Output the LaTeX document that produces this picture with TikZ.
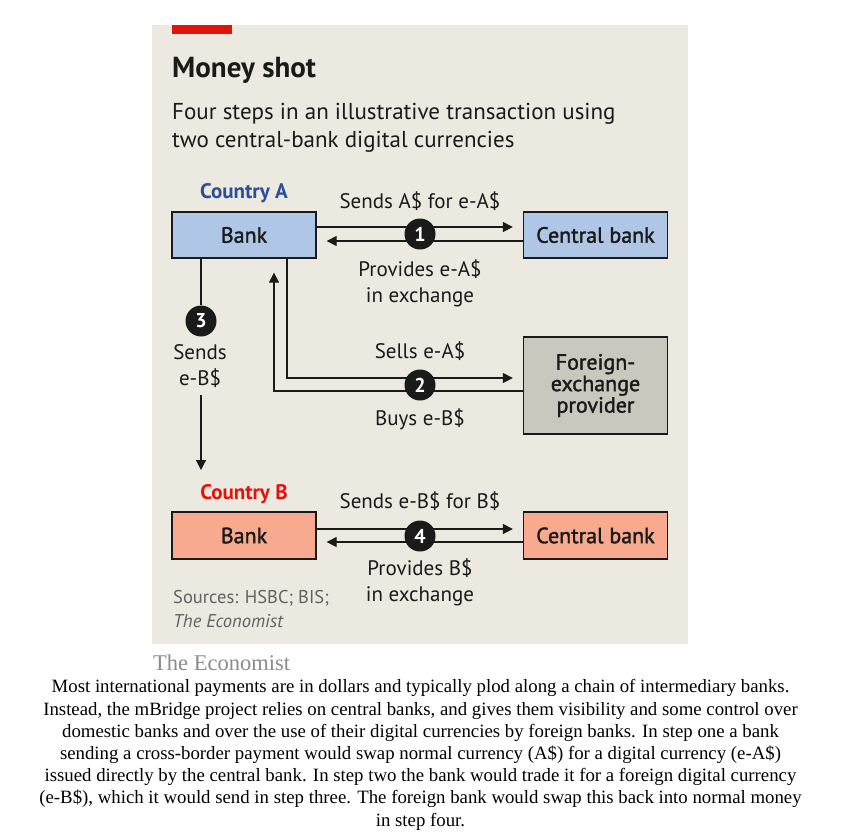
\documentclass[tikz,border=0pt]{standalone}
\usepackage{fontspec}
\setmainfont{Liberation Serif}
\setsansfont{PT Sans}
\newfontfamily\medfont[FakeBold=1.6]{PT Sans}
\usetikzlibrary{arrows.meta}
\definecolor{panel}{HTML}{ECEAE0}
\definecolor{blueA}{HTML}{AFC6E6}
\definecolor{salmonB}{HTML}{F7AA8F}
\definecolor{fxgray}{HTML}{C9C8BE}
\definecolor{ecored}{HTML}{E3120B}
\definecolor{ecoblue}{HTML}{2C4C9C}
\definecolor{ink}{HTML}{1A1A1A}
\begin{document}
\begin{tikzpicture}[x=1pt,y=-1pt,
    box/.style={draw=ink, line width=1.3pt, minimum width=144pt, minimum height=46pt, inner sep=0pt,
      align=center, text=ink, font=\medfont\fontsize{22}{21.5}\selectfont},
    lbl/.style={anchor=base, align=center, text=ink, font=\sffamily\fontsize{21}{25.5}\selectfont},
    ctry/.style={anchor=base, font=\sffamily\bfseries\fontsize{21}{21}\selectfont},
    flow/.style={draw=ink, line width=1.2pt, -{Triangle[length=10pt,width=10pt]}, shorten >=10pt},
    stepnum/.style={circle, fill=ink, text=white, minimum size=31pt, inner sep=0pt,
      font=\sffamily\bfseries\fontsize{20}{20}\selectfont}]
  \useasboundingbox (0,0) rectangle (857,839);
  \fill[white] (0,0) rectangle (857,839);
  \fill[panel] (152,25) rectangle (688,644);
  \fill[ecored] (172,25) rectangle (232,34);
  % headings
  \node[anchor=base west, inner sep=0pt, text=ink, font=\sffamily\bfseries\fontsize{29}{29}\selectfont] (title) at (172,77) {Money shot};
  \node[anchor=base west, inner sep=0pt, align=left, text=ink, font=\sffamily\fontsize{23}{28}\selectfont] (subtitle) at (172,147)
    {Four steps in an illustrative transaction using\\two central-bank digital currencies};
  % country A
  \node[ctry, text=ecoblue] (ctryA) at (244,198) {Country A};
  \node[box, fill=blueA] (bankA) at (244,235) {Bank};
  \node[box, fill=blueA] (cbA) at (595.5,235) {Central bank};
  \node[box, fill=fxgray, minimum height=97pt] (fxp) at (595.5,385.5) {Foreign-\\exchange\\provider};
  % country B
  \node[ctry, text=ecored] (ctryB) at (244,499) {Country B};
  \node[box, fill=salmonB, minimum height=47pt] (bankB) at (244,535.5) {Bank};
  \node[box, fill=salmonB, minimum height=47pt] (cbB) at (595.5,535.5) {Central bank};
  % arrow labels
  \node[lbl] (send1) at (420,208) {Sends A\$ for e-A\$};
  \node[lbl] (get1) at (420,302) {Provides e-A\$\\in exchange};
  \node[lbl] (sell2) at (420,358) {Sells e-A\$};
  \node[lbl] (buy2) at (420,425) {Buys e-B\$};
  \node[lbl] (send3) at (200,385) {Sends\\e-B\$};
  \node[lbl] (send4) at (420,508) {Sends e-B\$ for B\$};
  \node[lbl] (get4) at (420,601) {Provides B\$\\in exchange};
  % connectors
  \draw[flow] ([yshift=8pt]bankA.east) -- ([yshift=8pt]cbA.west);
  \draw[flow] ([yshift=-6pt]cbA.west) -- ([yshift=-6pt]bankA.east);
  \draw[flow] ([xshift=43pt]bankA.south) |- ([yshift=7.5pt]fxp.west);
  \draw[flow, shorten >=0pt] ([yshift=-5.5pt]fxp.west) -| ([xshift=30pt,yshift=-14pt]bankA.south);
  \draw[flow] ([yshift=6.5pt]bankB.east) -- ([yshift=6.5pt]cbB.west);
  \draw[flow] ([yshift=-6.5pt]cbB.west) -- ([yshift=-6.5pt]bankB.east);
  \foreach \n/\x/\y in {1/420/234, 2/420/385, 3/201/321, 4/420/536}
    \node[stepnum] (step\n) at (\x,\y) {\n};
  \coordinate (arr3) at (201,470);
  \draw[draw=ink, line width=1.2pt] ([xshift=-43pt]bankA.south) -- (step3);
  \draw[flow, shorten >=0pt] (step3 |- 0,395) -- (arr3);
  % sources
  \node[anchor=base west, inner sep=0pt, align=left, text=black!62, font=\sffamily\fontsize{18.5}{24}\selectfont] (src) at (173,627)
    {Sources: HSBC; BIS;\\\textit{The Economist}};
  % caption below the panel
  \node[anchor=base west, inner sep=0pt, text=black!45, font=\rmfamily\fontsize{22.5}{22.5}\selectfont] (brand) at (153,670) {The Economist};
  \node[anchor=base, align=center, font=\rmfamily\fontsize{18.8}{22.2}\selectfont] (caption) at (420.5,826)
    {Most international payments are in dollars and typically plod along a chain of intermediary banks.\\
     Instead, the mBridge project relies on central banks, and gives them visibility and some control over\\
     domestic banks and over the use of their digital currencies by foreign banks. In step one a bank\\
     sending a cross-border payment would swap normal currency (A\$) for a digital currency (e-A\$)\\
     issued directly by the central bank. In step two the bank would trade it for a foreign digital currency\\
     (e-B\$), which it would send in step three. The foreign bank would swap this back into normal money\\
     in step four.};
\end{tikzpicture}
\end{document}
